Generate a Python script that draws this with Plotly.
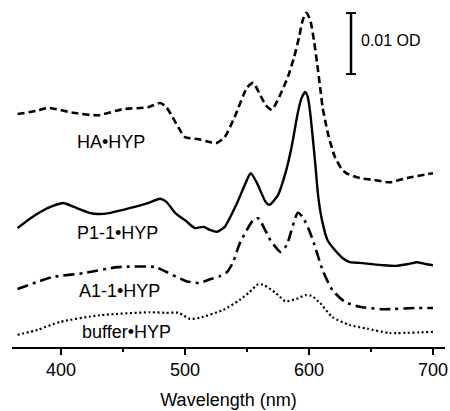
import plotly.graph_objects as go

# Offset absorbance spectra (mOD, stacked as in the figure)
wl_ha = [365, 380, 390, 410, 430, 450, 470, 480, 485, 490, 495, 500, 510, 520, 525, 532, 540,
         550, 555, 560, 565, 570, 576, 583, 588, 592, 595, 598, 601, 604, 606.5, 609, 611, 613,
         616, 621, 626, 630, 641, 652, 665, 679, 700]
od_ha = [38.2, 38.7, 39.2, 38.4, 38.0, 39.0, 39.3, 40.0, 39.3, 37.7, 35.9, 34.4, 34.1, 33.6, 33.4, 34.4, 37.7,
         42.5, 43.3, 41.6, 39.7, 38.9, 41.0, 44.3, 47.5, 50.8, 53.6, 54.8, 53.6, 50.3, 46.6, 42.6, 39.3, 37.2,
         34.4, 31.1, 29.3, 28.5, 27.7, 27.4, 27.0, 27.7, 28.5]

wl_p1 = [365, 374, 383, 392, 402, 410, 423, 430, 440, 456, 470, 480, 485, 492, 500, 508, 515, 520, 526,
         532, 542, 550, 553, 558, 565, 568, 575, 581, 586, 591, 594, 597, 599, 601, 605, 607.5, 610.5,
         615, 623, 627, 633, 641, 650, 660, 670, 680, 687, 694, 700]
od_p1 = [19.5, 20.9, 22.1, 23.0, 23.6, 23.0, 22.0, 21.8, 22.0, 22.8, 23.6, 24.3, 23.8, 22.0, 20.8, 19.5, 19.7, 19.2, 18.9,
         19.7, 23.6, 27.4, 28.5, 26.9, 23.8, 23.3, 24.9, 28.5, 32.8, 38.4, 40.8, 41.8, 41.0, 38.4, 30.2, 24.6, 20.8,
         17.5, 15.4, 14.6, 13.9, 13.8, 13.6, 13.4, 13.3, 13.6, 13.9, 13.6, 13.4]

wl_a1 = [365, 380, 394, 418, 446, 476, 485, 501, 512, 520, 528, 534, 539, 544, 555, 559, 569, 577, 582,
         591, 595, 600, 604, 611, 619, 629, 641, 660, 687, 700]
od_a1 = [9.5, 10.6, 11.5, 12.1, 13.1, 13.1, 12.3, 10.8, 10.5, 11.1, 11.6, 12.3, 14.0, 16.9, 20.8, 21.1, 17.5, 15.6, 16.7,
         22.0, 21.3, 19.2, 17.0, 12.6, 9.3, 7.4, 6.6, 6.2, 6.4, 6.4]

wl_buf = [365, 381, 399, 431, 472, 485, 495, 504, 512, 531, 544, 552, 559, 563, 573, 581, 590, 597, 602,
          609, 619, 633, 647, 665, 700]
od_buf = [2.0, 2.8, 4.1, 5.2, 5.7, 5.6, 5.6, 4.6, 4.8, 6.1, 7.7, 9.0, 10.3, 10.2, 8.9, 7.5, 7.9, 8.5, 8.4,
          7.2, 4.9, 3.6, 3.0, 2.3, 2.5]

labels = ["HA\u2022HYP", "P1-1\u2022HYP", "A1-1\u2022HYP", "buffer\u2022HYP"]
label_x = [440.3, 445.2, 446.8, 453.2]
label_y = [33.6, 18.7, 9.2, 2.5]

xticks = [400, 500, 600, 700]

FONT = "Liberation Sans, Arial, sans-serif"

fig = go.Figure()
fig.add_trace(go.Scatter(x=wl_ha, y=od_ha, mode="lines", line=dict(color="black", width=2.6, dash="7px,4px", shape="spline", smoothing=0.6)))
fig.add_trace(go.Scatter(x=wl_p1, y=od_p1, mode="lines", line=dict(color="black", width=2.4, shape="spline", smoothing=0.6)))
fig.add_trace(go.Scatter(x=wl_a1, y=od_a1, mode="lines", line=dict(color="black", width=2.6, dash="11px,5px,3px,5px", shape="spline", smoothing=0.6)))
fig.add_trace(go.Scatter(x=wl_buf, y=od_buf, mode="lines", line=dict(color="black", width=2.2, dash="2px,2.6px", shape="spline", smoothing=0.6)))

for t, x, y in zip(labels, label_x, label_y):
    fig.add_annotation(x=x, y=y, xref="x", yref="y", text=t, showarrow=False,
                       font=dict(family=FONT, size=18, color="black"))

# scale bar: 0.01 OD = 10 mOD
bar_x = 633.9
bar_lo, bar_hi = 44.75, 54.75
fig.add_shape(type="line", xref="x", yref="y", x0=bar_x, x1=bar_x, y0=bar_lo, y1=bar_hi, line=dict(color="black", width=2.5))
fig.add_shape(type="line", xref="x", yref="y", x0=bar_x - 4, x1=bar_x + 4, y0=bar_lo, y1=bar_lo, line=dict(color="black", width=2))
fig.add_shape(type="line", xref="x", yref="y", x0=bar_x - 4, x1=bar_x + 4, y0=bar_hi, y1=bar_hi, line=dict(color="black", width=2))
fig.add_annotation(x=640.3, y=50.2, xref="x", yref="y", text="0.01 OD", showarrow=False, xanchor="left",
                   font=dict(family=FONT, size=16, color="black"))

fig.update_layout(
    width=450, height=411,
    margin=dict(l=12, r=5, t=0, b=64),
    paper_bgcolor="white", plot_bgcolor="white",
    showlegend=False,
    font=dict(family=FONT, color="black"),
)
fig.update_xaxes(range=[360.5, 709.7], showline=True, linecolor="black", linewidth=1.5,
                 ticks="outside", ticklen=6, tickwidth=1.5, tickcolor="black",
                 tickvals=xticks, ticktext=[str(v) for v in xticks],
                 tickfont=dict(family=FONT, size=18, color="black"),
                 minor=dict(tickvals=[450, 550, 650], ticks="outside", ticklen=3, tickwidth=1.5, tickcolor="black"),
                 showgrid=False, zeroline=False,
                 title=dict(text="Wavelength (nm)", font=dict(family=FONT, size=18, color="black"), standoff=14))
fig.update_yaxes(range=[0, 56.89], visible=False, showgrid=False, zeroline=False)

fig.write_html("out.html")
